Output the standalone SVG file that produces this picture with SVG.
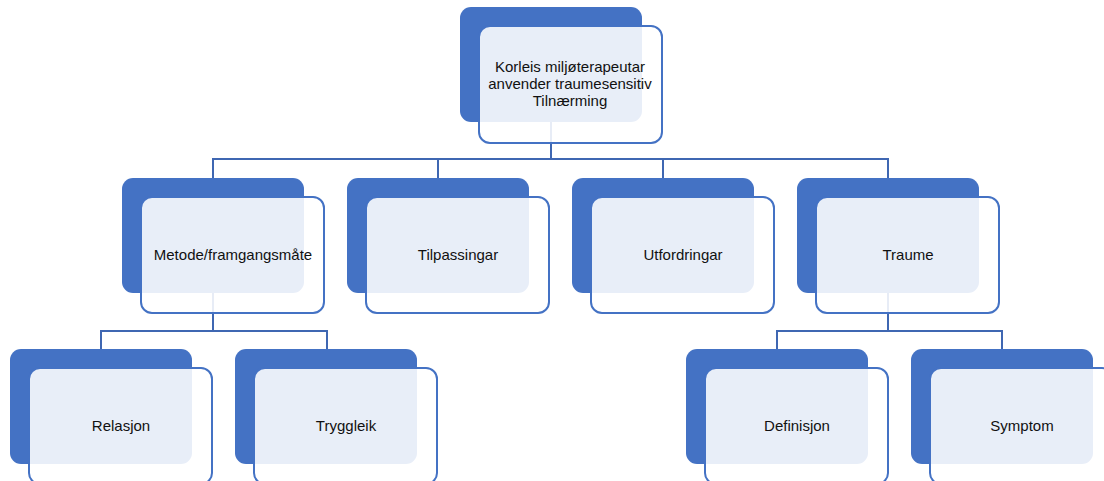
<svg xmlns="http://www.w3.org/2000/svg" width="1104" height="481" viewBox="0 0 1104 481">
<style>
.bg{fill:#4472C4}
.fg{fill:#FFFFFF;fill-opacity:0.88;stroke:#4472C4;stroke-width:2}
.t{font-family:"Liberation Sans",Arial,sans-serif;font-size:15px;fill:#111111;text-anchor:middle}
.c{fill:none;stroke:#3F67B2;stroke-width:2}
</style>
<rect width="1104" height="481" fill="#FFFFFF"/>
<g id="connectors">
<path class="c" d="M551 122V159M213 178V159H888V178M438 159V178M663 159V178"/>
<path class="c" d="M213 292V331M101 349V331H327V349"/>
<path class="c" d="M888 292V331M777 349V331H1002V349"/>
</g>
<g id="n0">
<rect class="bg" x="460" y="7" width="182" height="115" rx="11"/>
<rect class="fg" x="479" y="26" width="183" height="117" rx="11"/>
<text class="t" x="570" y="72">Korleis miljøterapeutar</text>
<text class="t" x="570" y="89">anvender traumesensitiv</text>
<text class="t" x="570" y="106">Tilnærming</text>
</g>
<g id="n1">
<rect class="bg" x="122" y="178" width="182" height="115" rx="11"/>
<rect class="fg" x="141" y="197" width="183" height="116" rx="11"/>
<text class="t" x="233" y="260">Metode/framgangsmåte</text>
</g>
<g id="n2">
<rect class="bg" x="347" y="178" width="182" height="115" rx="11"/>
<rect class="fg" x="366" y="197" width="183" height="116" rx="11"/>
<text class="t" x="458" y="260">Tilpassingar</text>
</g>
<g id="n3">
<rect class="bg" x="572" y="178" width="182" height="115" rx="11"/>
<rect class="fg" x="591" y="197" width="183" height="116" rx="11"/>
<text class="t" x="683" y="260">Utfordringar</text>
</g>
<g id="n4">
<rect class="bg" x="797" y="178" width="182" height="115" rx="11"/>
<rect class="fg" x="816" y="197" width="183" height="116" rx="11"/>
<text class="t" x="908" y="260">Traume</text>
</g>
<g id="n5">
<rect class="bg" x="10" y="349" width="182" height="115" rx="11"/>
<rect class="fg" x="29" y="368" width="183" height="116" rx="11"/>
<text class="t" x="121" y="431">Relasjon</text>
</g>
<g id="n6">
<rect class="bg" x="235" y="349" width="182" height="115" rx="11"/>
<rect class="fg" x="254" y="368" width="183" height="116" rx="11"/>
<text class="t" x="346" y="431">Tryggleik</text>
</g>
<g id="n7">
<rect class="bg" x="686" y="349" width="182" height="115" rx="11"/>
<rect class="fg" x="705" y="368" width="183" height="116" rx="11"/>
<text class="t" x="797" y="431">Definisjon</text>
</g>
<g id="n8">
<rect class="bg" x="911" y="349" width="182" height="115" rx="11"/>
<rect class="fg" x="930" y="368" width="183" height="116" rx="11"/>
<text class="t" x="1022" y="431">Symptom</text>
</g>
</svg>
